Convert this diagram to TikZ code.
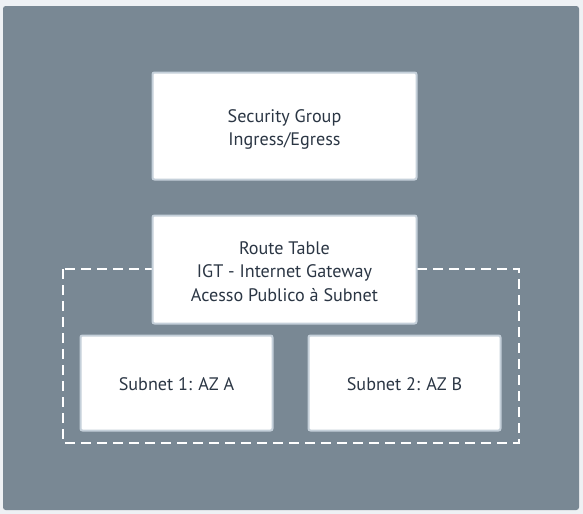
\documentclass[tikz,border=0pt]{standalone}
\usepackage{fontspec}
\setmainfont{PT Sans}
\definecolor{bgout}{HTML}{EEF1F4}
\definecolor{panel}{HTML}{798894}
\definecolor{boxline}{HTML}{C5D0DA}
\definecolor{txt}{HTML}{2B3644}
\tikzset{
  box/.style={draw=boxline, line width=1.5pt, fill=white, rounded corners=1.5pt, inner sep=0pt},
  lbl/.style={text=txt, align=center, font=\fontsize{13.6}{17.8}\selectfont, inner sep=0pt},
}
\begin{document}
\begin{tikzpicture}[x=0.75pt,y=-0.75pt]
\useasboundingbox (0,0) rectangle (583,514);
\fill[bgout] (0,0) rectangle (583,514);
\fill[panel, rounded corners=2pt] (3,6) rectangle (579,510);
\node[box, minimum width=264*0.75pt, minimum height=107*0.75pt] (sg) at (284.5,126) {};
\node[lbl] (sgt) at ([yshift=-2.6pt]sg.center) {Security Group\\Ingress/Egress};
\draw[white, line width=1.5pt, dash pattern=on 7.5pt off 4.5pt] (63,269) rectangle (519,443);
\node[box, minimum width=264*0.75pt, minimum height=108*0.75pt] (rt) at (284.5,269.5) {};
\node[lbl] (rtt) at ([yshift=-1.6pt]rt.center) {Route Table\\IGT - Internet Gateway\\Acesso Publico à Subnet};
\node[box, minimum width=192*0.75pt, minimum height=95*0.75pt] (s1) at (176.5,383) {};
\node[lbl] (s1t) at ([yshift=-0.8pt]s1.center) {Subnet 1: AZ A};
\node[box, minimum width=192*0.75pt, minimum height=95*0.75pt] (s2) at (404.5,383) {};
\node[lbl] (s2t) at ([yshift=-0.8pt]s2.center) {Subnet 2: AZ B};
\end{tikzpicture}
\end{document}
